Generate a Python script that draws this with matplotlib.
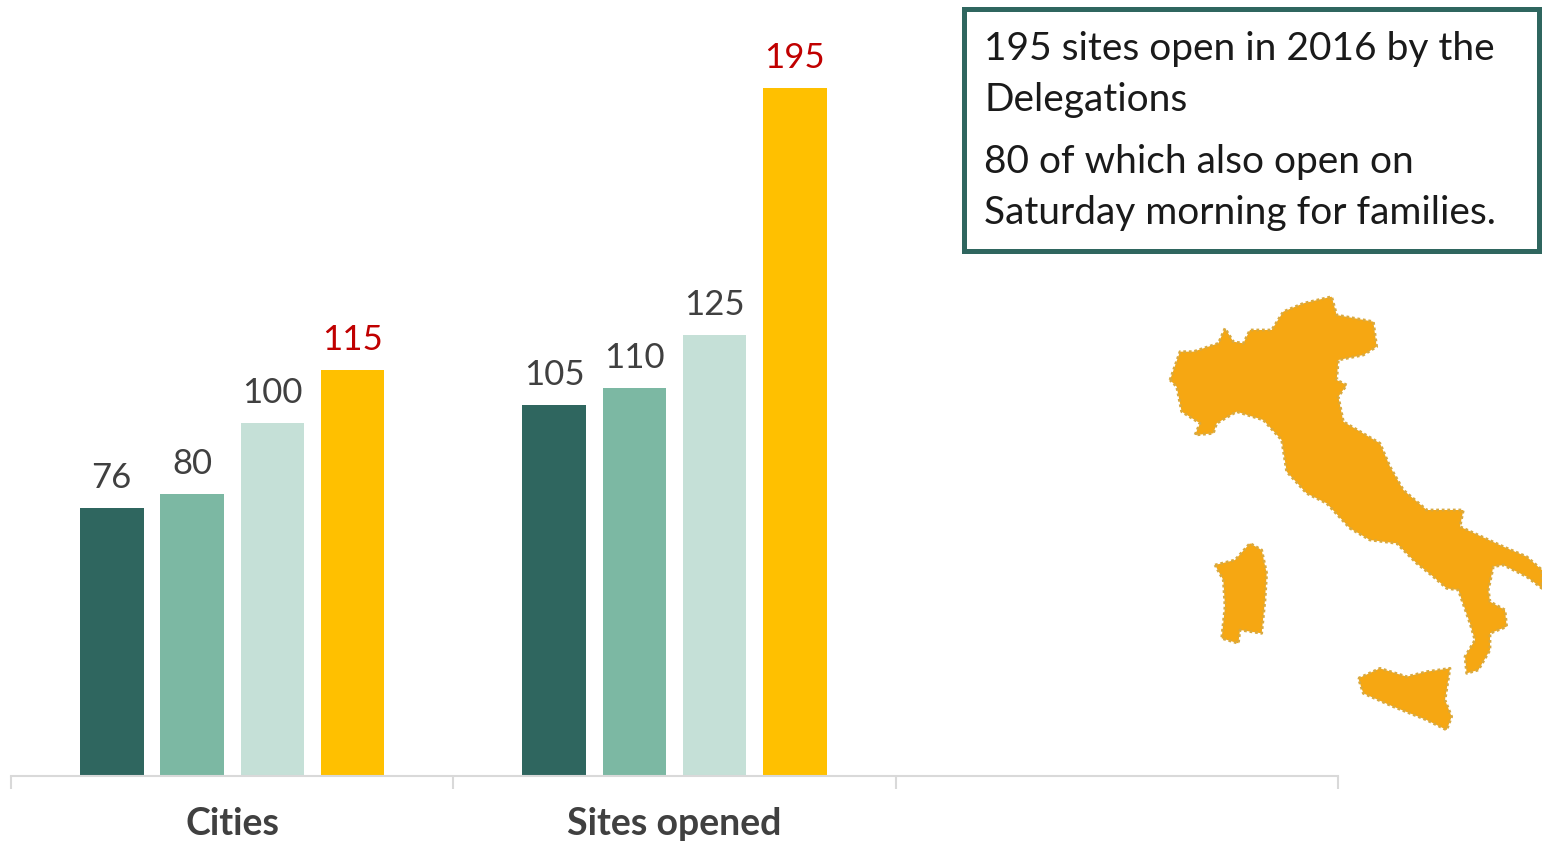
import numpy as np
import matplotlib
matplotlib.use("Agg")
import matplotlib.pyplot as plt
from matplotlib.patches import Polygon, Rectangle

plt.rcParams['font.family'] = ['Lato', 'DejaVu Sans']

categories = ['Cities', 'Sites opened', '']
years_values = [
    [76, 105],
    [80, 110],
    [100, 125],
    [115, 195],
]
bar_colors = ['#2F665F', '#7CB8A3', '#C5E0D7', '#FFC000']
label_colors = ['#404040', '#404040', '#404040', '#C00000']

box_lines = [
    ('195 sites open in 2016 by the', 49),
    ('Delegations', 100),
    ('80 of which also open on', 162),
    ('Saturday morning for families.', 213),
]

# map outline (3x zoom crop starting at 1150,280)
italy_main = [(60, 300), (90, 215), (130, 215), (205, 190), (225, 145), (250, 185), (280, 190), (300, 150),
              (365, 150), (400, 95), (460, 70), (545, 50), (560, 105), (670, 125), (680, 200), (640, 225),
              (565, 240), (560, 300), (590, 315), (565, 350), (580, 425), (690, 490), (720, 560), (760, 630),
              (830, 690), (940, 690), (930, 740), (1060, 800), (1130, 830), (1176, 870), (1176, 925),
              (1130, 890), (1060, 855), (1030, 860), (1015, 930), (1020, 965), (1065, 990), (1070, 1040),
              (1020, 1060), (1020, 1110), (985, 1170), (950, 1180), (945, 1130), (975, 1080), (960, 1030),
              (925, 930), (890, 925), (850, 890), (800, 850), (740, 790), (660, 780), (600, 745), (530, 670),
              (470, 640), (410, 575), (395, 480), (340, 420), (260, 395), (200, 430), (190, 460), (135, 465),
              (150, 430), (95, 395), (80, 320)]
sardinia = [(195, 855), (255, 840), (300, 790), (335, 810), (350, 880), (345, 960), (335, 1060), (270, 1050),
            (265, 1090), (215, 1075), (225, 980), (220, 900)]
sicily = [(625, 1195), (690, 1165), (770, 1190), (830, 1175), (900, 1165), (885, 1260), (905, 1310),
          (890, 1350), (830, 1320), (730, 1280), (640, 1240)]

W, H = 1542, 847
fig = plt.figure(figsize=(W / 100, H / 100), dpi=100)

# bar chart
ax = fig.add_axes([11 / W, (H - 775.5) / H, 1327 / W, 775.5 / H])
x = np.arange(2)
step = 0.1815
width = 0.1436
for i, vals in enumerate(years_values):
    pos = x + (i - 1.5) * step
    ax.bar(pos, vals, width, color=bar_colors[i])
    for p, v in zip(pos, vals):
        ax.annotate(str(v), (p, v), xytext=(0, 10), textcoords='offset points', ha='center', va='bottom',
                    fontsize=25, color=label_colors[i])

ax.set_xlim(-0.5, 2.5)
ax.set_ylim(0, 220)
ax.set_yticks([])
ax.set_xticks(np.arange(3))
ax.set_xticklabels(categories, fontsize=27, fontweight='bold', color='#404040')
ax.set_xticks(np.arange(-0.5, 3), minor=True)
ax.tick_params(axis='x', which='major', length=0, pad=23)
ax.tick_params(axis='x', which='minor', length=9, width=1.5, color='#D9D9D9')
for s in ['top', 'left', 'right']:
    ax.spines[s].set_visible(False)
ax.spines['bottom'].set_color('#D9D9D9')
ax.spines['bottom'].set_linewidth(1.5)

# overlay in pixel coordinates for the text box and the map
over = fig.add_axes([0, 0, 1, 1])
over.set_xlim(0, W)
over.set_ylim(H, 0)
over.axis('off')
over.patch.set_alpha(0)

over.add_patch(Rectangle((964, 9), 575, 242, facecolor='white', edgecolor='#2F665F', linewidth=3.6))
for line, y in box_lines:
    over.text(984, y, line, fontsize=28, color='#1A1A1A', va='center', ha='left')

for shape in [italy_main, sardinia, sicily]:
    pts = [(1150 + px / 3, 280 + py / 3) for px, py in shape]
    over.add_patch(Polygon(pts, closed=True, facecolor='#F6A712', edgecolor='#D9A93F', linewidth=2,
                           linestyle=(0, (1, 1)), joinstyle='round'))

fig.savefig('out.png', dpi=100)
